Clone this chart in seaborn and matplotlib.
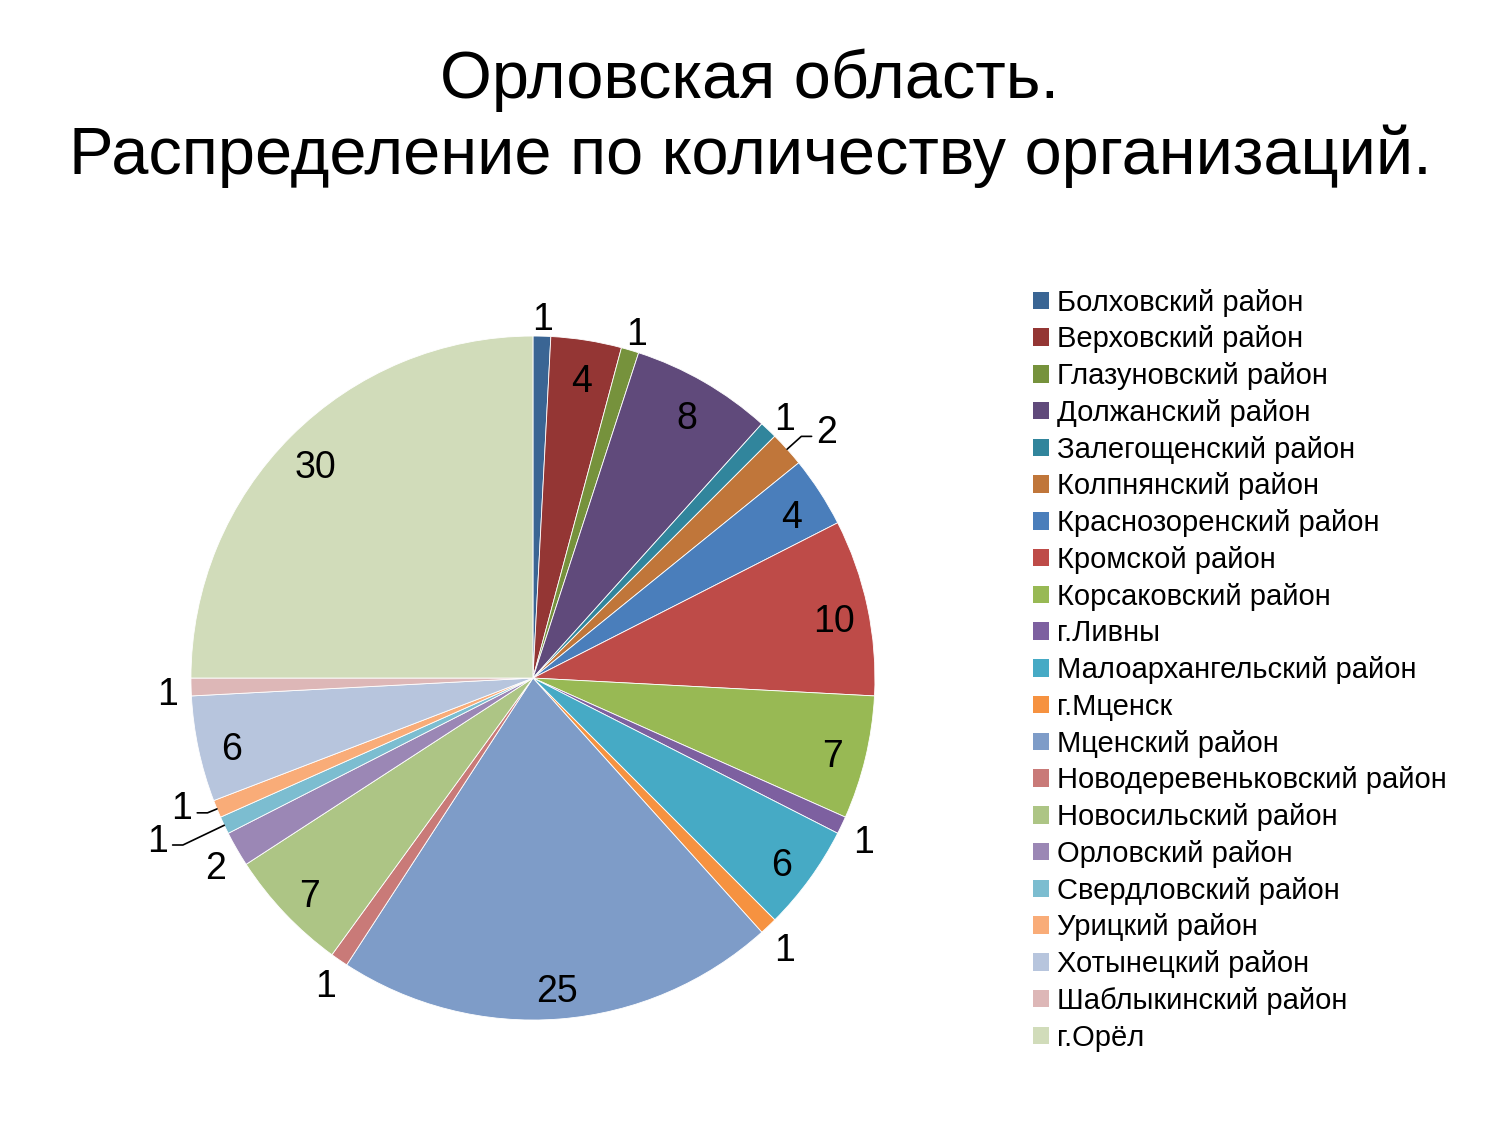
import numpy as np
import seaborn as sns
import matplotlib.pyplot as plt
from matplotlib.patches import Patch

### Data: districts and number of organizations
districts = ["Болховский район", "Верховский район", "Глазуновский район",
             "Должанский район", "Залегощенский район", "Колпнянский район",
             "Краснозоренский район", "Кромской район", "Корсаковский район",
             "г.Ливны", "Малоархангельский район", "г.Мценск", "Мценский район",
             "Новодеревеньковский район", "Новосильский район", "Орловский район",
             "Свердловский район", "Урицкий район", "Хотынецкий район",
             "Шаблыкинский район", "г.Орёл"]
counts = [1, 4, 1, 8, 1, 2, 4, 10, 7, 1, 6, 1, 25, 1, 7, 2, 1, 1, 6, 1, 30]
colors = ["#3A6594", "#943634", "#76923C", "#604A7B", "#31859C", "#C0763A",
          "#4A7EBB", "#BE4B48", "#98B954", "#7D60A0", "#46AAC5", "#F69240",
          "#7E9CC8", "#C97A78", "#ADC585", "#9B87B5", "#7CBDD0", "#F9AC78",
          "#B7C5DD", "#DDB7B7", "#D1DCBA"]
title = "Орловская область.\nРаспределение по количеству организаций."

sns.set_theme(style="white")
plt.rcParams['font.family'] = ['Liberation Sans', 'DejaVu Sans']
plt.rcParams['text.color'] = 'black'

fig = plt.figure(figsize=(15, 11.25), dpi=100)
fig.text(0.5, 1 - 118 / 1125, title, ha="center", va="center",
         fontsize=48, linespacing=1.26, color="black")

ax = fig.add_axes([0.1273, 0.0933, 0.456, 0.608])
wedges, _ = ax.pie(counts, colors=sns.color_palette(colors), startangle=90,
                   counterclock=False, radius=1.0,
                   wedgeprops=dict(edgecolor="white", linewidth=0.6))
ax.set_xlim(-1, 1)
ax.set_ylim(-1, 1)
ax.axis("off")

# labels with leader lines: index -> elbow radius
leaders = {5: 1.056, 16: 1.134, 17: 1.03}
dy = -0.022

for i, (w, v) in enumerate(zip(wedges, counts)):
    mid = np.deg2rad((w.theta1 + w.theta2) / 2)
    c, s = np.cos(mid), np.sin(mid)
    if i in leaders:
        e = leaders[i]
        side = 1 if c > 0 else -1
        ex, ey = e * c, e * s
        endx = ex + side * 0.03
        ax.plot([c, ex, endx], [s, ey, ey], color="black", lw=1.2, clip_on=False)
        ax.text(endx + side * 0.045, ey + 0.032 + dy, str(v), ha="center",
                va="center", fontsize=27, color="black", clip_on=False)
    elif v <= 2:
        r = 1.07
        ax.text(r * c, r * s + dy, str(v), ha="center", va="center", fontsize=27,
                color="black", clip_on=False)
    else:
        r = 0.9
        ax.text(r * c, r * s + dy, str(v), ha="center", va="center", fontsize=27,
                color="black")

handles = [Patch(facecolor=col, edgecolor="none") for col in colors]
fig.legend(handles, districts, loc="upper left",
           bbox_to_anchor=(1021 / 1500, 1 - 277 / 1125), frameon=False,
           fontsize=21, handlelength=0.55, handleheight=0.55, handletextpad=0.3,
           labelspacing=0.30, borderaxespad=0, labelcolor="black")

fig.savefig("out.png", dpi=100, facecolor="white")
